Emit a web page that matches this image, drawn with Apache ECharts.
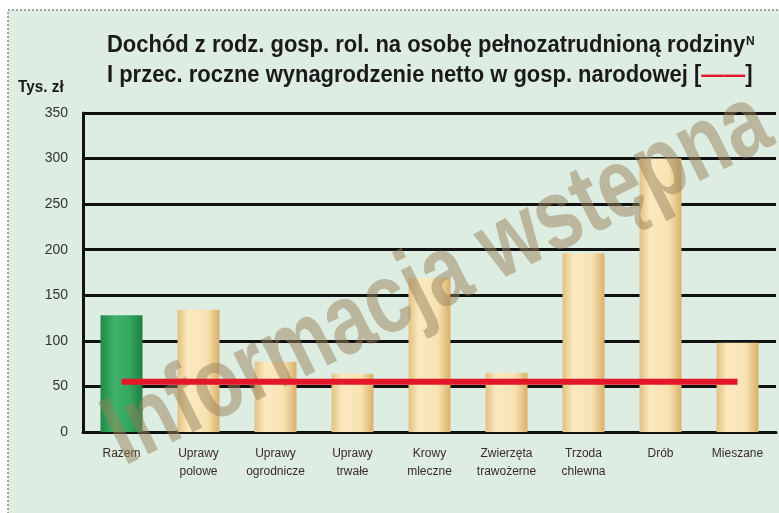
<!DOCTYPE html>
<html>
<head>
<meta charset="utf-8">
<script src="https://cdn.jsdelivr.net/npm/echarts@6/dist/echarts.min.js"></script>
<style>
  html, body { margin: 0; padding: 0; background: #fff; }
  #chart { width: 779px; height: 513px; }
</style>
</head>
<body>
<div id="chart"></div>
<script>
  // kategorie gospodarstw
  var categories = ['Razem', 'Uprawy\npolowe', 'Uprawy\nogrodnicze', 'Uprawy\ntrwałe', 'Krowy\nmleczne',
    'Zwierzęta\ntrawożerne', 'Trzoda\nchlewna', 'Drób', 'Mieszane']
  // dochód na osobę pełnozatrudnioną (tys. zł)
  var incomeData = [128, 134, 77, 64, 169, 65, 196, 300, 98]
  // przeciętne roczne wynagrodzenie netto
  var wageData = [55, 55, 55, 55, 55, 55, 55, 55, 55]
  var yTicks = [0, 50, 100, 150, 200, 250, 300, 350]

  var font = '"Liberation Sans", Arial, sans-serif'

  var cream = new echarts.graphic.LinearGradient(0, 0, 1, 0, [
    { offset: 0, color: '#e2c083' },
    { offset: 0.25, color: '#fbe9bf' },
    { offset: 0.7, color: '#f8e2b2' },
    { offset: 1, color: '#d9b06a' }
  ])
  var green = new echarts.graphic.LinearGradient(0, 0, 1, 0, [
    { offset: 0, color: '#1f8a48' },
    { offset: 0.35, color: '#3fb36b' },
    { offset: 0.7, color: '#33a55e' },
    { offset: 1, color: '#1d7f42' }
  ])

  var chart = echarts.init(document.getElementById('chart'))
  chart.setOption({
    backgroundColor: '#ffffff',
    animation: false,
    grid: { left: 83, right: 3, top: 113, bottom: 81 },
    graphic: [
      {
        type: 'rect', z: -10,
        shape: { x: 8, y: 10, width: 790, height: 520 },
        style: { fill: '#deede2', stroke: '#8a8a8a', lineWidth: 1.5, lineDash: [2, 2] }
      },
      {
        type: 'text', z: 100,
        x: 107, y: 34, scaleX: 0.955,
        style: {
          text: 'Dochód z rodz. gosp. rol. na osobę pełnozatrudnioną rodziny',
          font: 'bold 23px ' + font, fill: '#1a1a1a'
        }
      },
      {
        type: 'text', z: 100,
        x: 746, y: 36,
        style: { text: 'N', font: 'bold 12px ' + font, fill: '#1a1a1a' }
      },
      {
        type: 'text', z: 100,
        x: 107, y: 64, scaleX: 0.955,
        style: {
          text: 'I przec. roczne wynagrodzenie netto w gosp. narodowej [{r|——}]',
          font: 'bold 23px ' + font, fill: '#1a1a1a',
          rich: { r: { fill: '#e01a2a', font: 'bold 23px ' + font } }
        }
      },
      {
        type: 'text', z: 100,
        x: 18, y: 79, scaleX: 0.9,
        style: { text: 'Tys. zł', font: 'bold 17px ' + font, fill: '#1a1a1a' }
      },
      {
        // znak wodny
        type: 'text', z: 50,
        x: 438, y: 280, rotation: 0.46, scaleX: 0.78,
        style: {
          text: 'Informacja wstępna',
          font: 'bold 100px ' + font,
          fill: 'rgba(150,130,90,0.5)', align: 'center', verticalAlign: 'middle'
        }
      }
    ],
    xAxis: {
      type: 'category',
      data: categories,
      axisLine: { lineStyle: { color: '#111', width: 3 } },
      axisTick: { show: false },
      axisLabel: { interval: 0, color: '#3a2a2a', fontSize: 12, margin: 13, lineHeight: 18, fontFamily: 'Liberation Sans' }
    },
    yAxis: {
      type: 'value',
      min: 0, max: 350, interval: 50,
      axisLine: { show: true, lineStyle: { color: '#111', width: 3 } },
      axisTick: { show: false },
      axisLabel: {
        color: '#333', fontSize: 14, margin: 15, fontFamily: 'Liberation Sans',
        formatter: function (v) { return yTicks.indexOf(v) >= 0 ? String(v) : '' }
      },
      splitLine: { lineStyle: { color: '#111', width: 3 } }
    },
    series: [
      {
        type: 'bar', z: 2,
        barWidth: 42,
        data: incomeData.map(function (v, i) {
          return { value: v, itemStyle: { color: i === 0 ? green : cream } }
        })
      },
      {
        type: 'line', z: 60,
        data: wageData,
        symbol: 'none',
        lineStyle: { color: '#e4172a', width: 6 }
      }
    ]
  })
</script>
</body>
</html>
